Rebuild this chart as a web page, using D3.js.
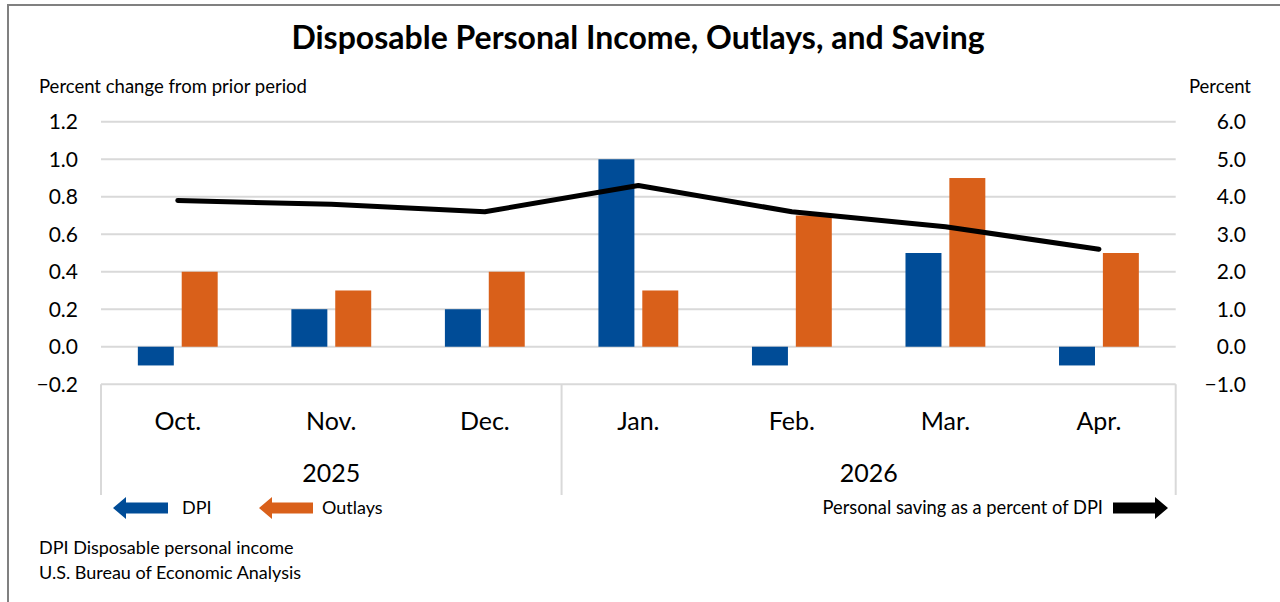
<!DOCTYPE html>
<html>
<head>
<meta charset="utf-8">
<script src="https://cdn.jsdelivr.net/npm/d3@7"></script>
<style>
  html, body { margin: 0; padding: 0; background: #fff; }
  svg { display: block; font-family: Lato, 'Open Sans', sans-serif; }
</style>
</head>
<body>
<svg id="chart" width="1280" height="602"></svg>
<script>
// data
const months = ['Oct.', 'Nov.', 'Dec.', 'Jan.', 'Feb.', 'Mar.', 'Apr.'];
const years = [
  { label: '2025', from: 'Oct.', to: 'Dec.' },
  { label: '2026', from: 'Jan.', to: 'Apr.' }
];
const dpi = [-0.1, 0.2, 0.2, 1.0, -0.1, 0.5, -0.1];
const outlays = [0.4, 0.3, 0.4, 0.3, 0.7, 0.9, 0.5];
const saving = [3.9, 3.8, 3.6, 4.3, 3.6, 3.2, 2.6];
const leftTicks = [-0.2, 0.0, 0.2, 0.4, 0.6, 0.8, 1.0, 1.2];
const rightTicks = [-1.0, 0.0, 1.0, 2.0, 3.0, 4.0, 5.0, 6.0];
const seriesNames = ['DPI', 'Outlays'];
const colors = { DPI: '#004C97', Outlays: '#D9601A', Saving: '#000000' };

const svg = d3.select('#chart');
const width = 1280, height = 602;
const plot = { left: 101, right: 1175.7, top: 121.8, bottom: 384.2 };

svg.append('rect').attr('width', width).attr('height', height).attr('fill', '#fff');

// outer frame (only left + top edges visible)
svg.append('path')
  .attr('d', `M8,${height} L8,5 L${width},5`)
  .attr('fill', 'none')
  .attr('stroke', '#808080')
  .attr('stroke-width', 2);

const x0 = d3.scaleBand()
  .domain(months)
  .range([plot.left, plot.right])
  .paddingInner(0.48)
  .paddingOuter(0.24);

const x1 = d3.scaleBand()
  .domain(seriesNames)
  .range([0, x0.bandwidth()])
  .paddingInner(0.18);

const yL = d3.scaleLinear().domain([-0.2, 1.2]).range([plot.bottom, plot.top]);
const yR = d3.scaleLinear().domain([-1.0, 6.0]).range([plot.bottom, plot.top]);

const step = x0.step();
const cx = m => x0(m) + x0.bandwidth() / 2;

// gridlines
svg.append('g')
  .selectAll('line')
  .data(leftTicks)
  .join('line')
  .attr('x1', plot.left)
  .attr('x2', plot.right)
  .attr('y1', d => yL(d))
  .attr('y2', d => yL(d))
  .attr('stroke', '#d9d9d9')
  .attr('stroke-width', 2);

// category box below plot
const boxBottom = 495;
const dividers = [plot.left, x0('Jan.') - x0.step() * x0.paddingInner() / 2, plot.right];
svg.append('g')
  .selectAll('line')
  .data(dividers)
  .join('line')
  .attr('x1', d => d)
  .attr('x2', d => d)
  .attr('y1', plot.bottom)
  .attr('y2', boxBottom)
  .attr('stroke', '#d9d9d9')
  .attr('stroke-width', 2);

// bars
const barData = months.flatMap((m, i) => [
  { month: m, key: 'DPI', value: dpi[i] },
  { month: m, key: 'Outlays', value: outlays[i] }
]);

svg.append('g')
  .selectAll('rect')
  .data(barData)
  .join('rect')
  .attr('x', d => x0(d.month) + x1(d.key))
  .attr('width', x1.bandwidth())
  .attr('y', d => yL(Math.max(0, d.value)))
  .attr('height', d => Math.abs(yL(d.value) - yL(0)))
  .attr('fill', d => colors[d.key]);

// saving line
const line = d3.line()
  .x((d, i) => cx(months[i]))
  .y(d => yR(d));

svg.append('path')
  .datum(saving)
  .attr('d', line)
  .attr('fill', 'none')
  .attr('stroke', colors.Saving)
  .attr('stroke-width', 5)
  .attr('stroke-linecap', 'round')
  .attr('stroke-linejoin', 'round');

// left axis labels
svg.append('g')
  .selectAll('text')
  .data(leftTicks)
  .join('text')
  .attr('x', 78)
  .attr('y', d => yL(d))
  .attr('dy', '0.35em')
  .attr('text-anchor', 'end')
  .attr('font-size', 21)
  .attr('fill', '#000')
  .text(d => d3.format('.1f')(d).replace('-', '\u2212'));

// right axis labels
svg.append('g')
  .selectAll('text')
  .data(rightTicks)
  .join('text')
  .attr('x', 1246)
  .attr('y', d => yR(d))
  .attr('dy', '0.35em')
  .attr('text-anchor', 'end')
  .attr('font-size', 21)
  .attr('fill', '#000')
  .text(d => d3.format('.1f')(d).replace('-', '\u2212'));

// month labels
svg.append('g')
  .selectAll('text')
  .data(months)
  .join('text')
  .attr('x', d => cx(d))
  .attr('y', 430)
  .attr('text-anchor', 'middle')
  .attr('font-size', 25)
  .attr('fill', '#000')
  .text(d => d);

// year labels
svg.append('g')
  .selectAll('text')
  .data(years)
  .join('text')
  .attr('x', d => (x0(d.from) - step * x0.paddingInner() / 2 + x0(d.to) + x0.bandwidth() + step * x0.paddingInner() / 2) / 2)
  .attr('y', 482)
  .attr('text-anchor', 'middle')
  .attr('font-size', 25)
  .attr('fill', '#000')
  .text(d => d.label);

// title + axis titles
svg.append('text')
  .attr('x', 638)
  .attr('y', 49)
  .attr('text-anchor', 'middle')
  .attr('font-size', 32)
  .attr('font-weight', 'bold')
  .text('Disposable Personal Income, Outlays, and Saving');

svg.append('text')
  .attr('x', 39)
  .attr('y', 93)
  .attr('font-size', 18.5)
  .text('Percent change from prior period');

svg.append('text')
  .attr('x', 1251)
  .attr('y', 93)
  .attr('text-anchor', 'end')
  .attr('font-size', 18.5)
  .text('Percent');

// legend arrows
function arrow(g, xTail, xHead, yc, color) {
  const dir = Math.sign(xHead - xTail);
  const headLen = 13, bar = 5.5, head = 11;
  const xb = xHead - dir * headLen;
  g.append('path')
    .attr('d', `M${xTail},${yc - bar} L${xb},${yc - bar} L${xb},${yc - head} L${xHead},${yc} L${xb},${yc + head} L${xb},${yc + bar} L${xTail},${yc + bar} Z`)
    .attr('fill', color);
}
const legend = svg.append('g');
const legendY = 508;
arrow(legend, 168, 113, legendY, colors.DPI);
legend.append('text').attr('x', 182).attr('y', legendY).attr('dy', '0.35em')
  .attr('font-size', 18).text('DPI');
arrow(legend, 313, 259, legendY, colors.Outlays);
legend.append('text').attr('x', 322).attr('y', legendY).attr('dy', '0.35em')
  .attr('font-size', 18).text('Outlays');
arrow(legend, 1113, 1168, legendY, colors.Saving);
legend.append('text').attr('x', 1103).attr('y', legendY).attr('dy', '0.35em')
  .attr('text-anchor', 'end')
  .attr('font-size', 18.3).text('Personal saving as a percent of DPI');

// notes
svg.append('text').attr('x', 39).attr('y', 554).attr('font-size', 18)
  .text('DPI Disposable personal income');
svg.append('text').attr('x', 39).attr('y', 579).attr('font-size', 18)
  .text('U.S. Bureau of Economic Analysis');
</script>
</body>
</html>
